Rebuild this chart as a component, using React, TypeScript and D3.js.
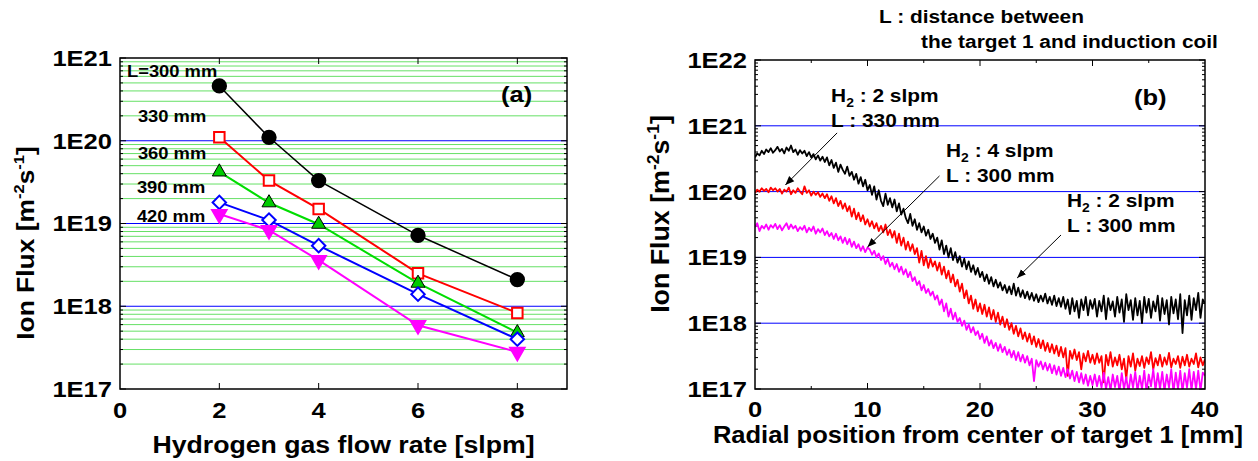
import React from 'react';
import * as d3 from 'd3';

// ---- panel (a): ion flux vs hydrogen flow rate ----
const flowRates = [2, 3, 4, 6, 8];
const fluxL300 = [4.6e20, 1.1e20, 3.3e19, 7.2e18, 2.1e18];
const fluxL330 = [1.1e20, 3.3e19, 1.5e19, 2.5e18, 8.3e17];
const fluxL360 = [4.2e19, 1.78e19, 9.8e18, 1.9e18, 4.8e17];
const fluxL390 = [1.8e19, 1.1e19, 5.4e18, 1.4e18, 4.0e17];
const fluxL420 = [1.3e19, 8.3e18, 3.6e18, 5.9e17, 2.8e17];
const distanceLabels = ['L=300 mm', '330 mm', '360 mm', '390 mm', '420 mm'];
const distanceLabelPos = [[0.14, 5.9e20], [0.36, 1.69e20], [0.36, 6.0e19], [0.34, 2.34e19], [0.34, 1.05e19]];
const xTicksA = [0, 2, 4, 6, 8];
const yTicksA = [1e17, 1e18, 1e19, 1e20, 1e21];

// ---- panel (b): radial profiles, log10 of flux every 0.2 mm from 0 to 40 mm ----
const radialStep = 0.2;
const logH2_2_L300 = [
  20.52, 20.58, 20.55, 20.62, 20.57, 20.64, 20.60, 20.66, 20.59, 20.63, 20.68,
  20.61, 20.65, 20.58, 20.67, 20.62, 20.70, 20.60, 20.64, 20.56, 20.63,
  20.58, 20.62, 20.54, 20.60, 20.52, 20.57, 20.49, 20.55, 20.47, 20.53,
  20.45, 20.52, 20.40, 20.48, 20.36, 20.44, 20.30, 20.41, 20.33, 20.27,
  20.38, 20.24, 20.30, 20.18, 20.27, 20.12, 20.22, 20.08, 20.18, 20.02,
  20.10, 19.95, 20.08, 19.88, 20.02, 19.86, 19.78, 19.97, 19.80, 19.90,
  19.76, 19.88, 19.70, 19.82, 19.65, 19.74, 19.60, 19.52, 19.66, 19.48,
  19.58, 19.42, 19.52, 19.38, 19.47, 19.33, 19.42, 19.28, 19.36, 19.22,
  19.30, 19.12, 19.26, 19.05, 19.18, 19.00, 19.14, 18.96, 19.08, 18.92,
  19.02, 18.86, 18.98, 18.82, 18.94, 18.78, 18.88, 18.74, 18.84, 18.70,
  18.78, 18.64, 18.74, 18.60, 18.70, 18.56, 18.66, 18.54, 18.62, 18.50,
  18.58, 18.46, 18.56, 18.44, 18.60, 18.42, 18.54, 18.40, 18.50, 18.38,
  18.48, 18.36, 18.46, 18.34, 18.44, 18.32, 18.42, 18.33, 18.45, 18.30,
  18.40, 18.28, 18.42, 18.26, 18.38, 18.25, 18.40, 18.22, 18.36, 18.14,
  18.38, 18.18, 18.34, 18.08, 18.36, 18.20, 18.40, 18.12, 18.35, 18.22,
  18.37, 18.10, 18.34, 18.18, 18.42, 18.06, 18.38, 18.20, 18.33, 18.10,
  18.40, 18.16, 18.36, 18.02, 18.44, 18.20, 18.35, 18.05, 18.38, 18.12,
  18.34, 18.00, 18.40, 18.16, 18.37, 18.08, 18.33, 18.18, 18.42, 18.04,
  18.38, 18.14, 18.35, 17.98, 18.40, 18.15, 18.36, 18.06, 18.44, 17.85,
  18.35, 18.12, 18.42, 18.05, 18.38, 18.20, 18.46, 18.08, 18.36, 18.30,
];
const logH2_2_L330 = [
  19.98, 20.03, 20.00, 20.05, 20.01, 20.04, 19.99, 20.06, 20.02, 20.05, 20.00,
  20.04, 19.97, 20.03, 20.00, 20.06, 19.96, 20.02, 19.98, 20.05, 20.00,
  19.96, 20.08, 19.98, 20.02, 19.94, 20.00, 19.95, 19.99, 19.92, 19.97,
  19.90, 19.96, 19.86, 19.93, 19.82, 19.90, 19.78, 19.86, 19.74, 19.82,
  19.70, 19.78, 19.62, 19.74, 19.58, 19.68, 19.55, 19.64, 19.50, 19.58,
  19.47, 19.55, 19.44, 19.52, 19.40, 19.48, 19.38, 19.50, 19.34, 19.42,
  19.30, 19.40, 19.22, 19.36, 19.18, 19.30, 19.12, 19.24, 19.10, 19.20,
  19.05, 19.14, 18.92, 19.10, 18.88, 19.02, 18.84, 18.98, 18.86, 18.94,
  18.80, 18.92, 18.74, 18.86, 18.68, 18.80, 18.62, 18.74, 18.56, 18.66,
  18.48, 18.60, 18.38, 18.50, 18.30, 18.42, 18.22, 18.36, 18.18, 18.30,
  18.14, 18.28, 18.10, 18.24, 18.06, 18.20, 18.02, 18.16, 17.98, 18.10,
  17.94, 18.06, 17.90, 18.00, 17.84, 17.96, 17.80, 17.92, 17.76, 17.86,
  17.72, 17.84, 17.68, 17.80, 17.64, 17.76, 17.62, 17.74, 17.58, 17.70,
  17.56, 17.68, 17.54, 17.66, 17.50, 17.64, 17.48, 17.62, 17.20, 17.58,
  17.46, 17.60, 17.44, 17.56, 17.30, 17.54, 17.42, 17.58, 17.40, 17.52,
  17.38, 17.54, 17.40, 17.50, 17.10, 17.52, 17.36, 17.56, 17.34, 17.48,
  17.36, 17.52, 17.30, 17.46, 17.15, 17.50, 17.34, 17.54, 17.28, 17.46,
  17.35, 17.50, 17.32, 17.48, 17.38, 17.56, 17.30, 17.47, 17.36, 17.52,
  17.34, 17.48, 17.37, 17.55, 17.33, 17.46, 17.38, 17.50, 17.32, 17.49,
  17.36, 17.52, 17.34, 17.46, 17.38, 17.54, 17.33, 17.48, 17.36, 17.45,
];
const logH2_4_L300 = [
  19.46, 19.52, 19.40, 19.48, 19.44, 19.50, 19.42, 19.49, 19.45, 19.51, 19.43,
  19.49, 19.41, 19.47, 19.52, 19.43, 19.50, 19.44, 19.48, 19.40, 19.46,
  19.42, 19.48, 19.38, 19.45, 19.40, 19.47, 19.36, 19.43, 19.38, 19.44,
  19.34, 19.40, 19.32, 19.37, 19.28, 19.36, 19.26, 19.32, 19.22, 19.30,
  19.20, 19.28, 19.16, 19.24, 19.14, 19.20, 19.10, 19.17, 19.08, 19.15,
  19.12, 19.04, 19.10, 19.00, 19.06, 18.96, 19.02, 18.90, 18.98, 18.86,
  18.92, 18.82, 18.90, 18.78, 18.86, 18.74, 18.82, 18.70, 18.78, 18.64,
  18.70, 18.58, 18.64, 18.50, 18.58, 18.46, 18.52, 18.42, 18.48, 18.36,
  18.42, 18.28, 18.36, 18.18, 18.30, 18.10, 18.22, 18.06, 18.16, 18.02,
  18.08, 17.96, 18.04, 17.90, 17.98, 17.86, 17.94, 17.82, 17.88, 17.76,
  17.84, 17.70, 17.80, 17.66, 17.74, 17.62, 17.70, 17.58, 17.68, 17.56,
  17.64, 17.52, 17.60, 17.48, 17.58, 17.44, 17.56, 17.42, 17.52, 17.40,
  17.50, 17.36, 17.46, 17.12, 17.44, 17.34, 17.42, 17.30, 17.40, 17.28,
  17.38, 17.24, 17.36, 17.22, 17.34, 17.20, 17.32, 17.18, 17.30, 17.16,
  17.28, 17.12, 17.26, 17.10, 17.24, 17.08, 17.22, 17.05, 17.20, 17.06,
  17.22, 17.04, 17.20, 17.02, 17.25, 17.00, 17.18, 16.98, 17.22, 17.03,
  17.20, 16.96, 17.24, 17.00, 17.18, 16.95, 17.22, 17.02, 17.26, 16.97,
  17.20, 17.00, 17.28, 16.96, 17.22, 17.04, 17.30, 16.98, 17.24, 17.00,
  17.26, 16.97, 17.22, 17.02, 17.30, 16.95, 17.25, 17.00, 17.28, 16.96,
  17.24, 17.02, 17.30, 16.98, 17.26, 17.00, 17.28, 16.97, 17.25, 17.20,
];
const xTicksB = [0, 10, 20, 30, 40];
const xMinorB = [5, 15, 25, 35];
const yTicksB = [1e17, 1e18, 1e19, 1e20, 1e21, 1e22];
// annotation texts and arrows (data coordinates: mm, flux)
const noteText = [
  { x: 6.76, y: 2.3e21, h2: '2 slpm', l: '330 mm' },
  { x: 16.98, y: 3.36e20, h2: '4 slpm', l: '300 mm' },
  { x: 27.73, y: 5.83e19, h2: '2 slpm', l: '300 mm' },
];
const noteArrows = [
  [[7.3, 7.8e20], [2.7, 1.26e20]],
  [[16.4, 1.73e20], [10.0, 1.44e19]],
  [[27.2, 2.19e19], [23.3, 4.86e18]],
];

const FONT = 'Arial, "Liberation Sans", Helvetica, sans-serif';
// the original lettering is a little wider than Arial
const WIDE = 1.16;

const xA = d3.scaleLinear().domain([0, 9]).range([120, 567]);
const yA = d3.scaleLog().domain([1e17, 1e21]).range([389, 58]);
const xB = d3.scaleLinear().domain([0, 40]).range([755, 1205]);
const yB = d3.scaleLog().domain([1e17, 1e22]).range([389, 60]);

function minorLogs(lo: number, hi: number) {
  const out: number[] = [];
  for (let e = lo; e < hi; e++) for (let k = 2; k <= 9; k++) out.push(k * Math.pow(10, e));
  return out;
}

function T({ x, y, sx = WIDE, children, ...rest }: any) {
  return (
    <text transform={`translate(${x},${y}) scale(${sx},1)`} fontWeight="bold" {...rest}>
      {children}
    </text>
  );
}

function YLabel({ x, y, size, sx }: { x: number; y: number; size: number; sx: number }) {
  const sup = Math.round(size * 0.64);
  const up = Math.round(size * 0.4);
  return (
    <text transform={`translate(${x},${y}) rotate(-90) scale(${sx},1)`} textAnchor="middle" fontSize={size} fontWeight="bold" fontFamily={FONT}>
      Ion Flux [m<tspan fontSize={sup} dy={-up}>-2</tspan><tspan dy={up}>s</tspan><tspan fontSize={sup} dy={-up}>-1</tspan><tspan dy={up}>]</tspan>
    </text>
  );
}

function LogYAxis({ y, x0, x1, lo, hi }: any) {
  const minors = minorLogs(lo, hi);
  const majors = d3.range(lo, hi + 1).map((e) => Math.pow(10, e));
  return (
    <g stroke="#000" strokeWidth={1}>
      {minors.map((v, i) => (
        <g key={'m' + i}>
          <line x1={x0} x2={x0 + 3} y1={y(v)} y2={y(v)} />
          <line x1={x1} x2={x1 - 3} y1={y(v)} y2={y(v)} />
        </g>
      ))}
      {majors.map((v, i) => (
        <g key={'M' + i}>
          <line x1={x0} x2={x0 + 6} y1={y(v)} y2={y(v)} />
          <line x1={x1} x2={x1 - 6} y1={y(v)} y2={y(v)} />
        </g>
      ))}
    </g>
  );
}

function PanelA() {
  const [x0, x1] = xA.range();
  const [yb, yt] = yA.range();
  const series = [
    { vals: fluxL300, color: '#000', sym: d3.symbolCircle, size: 140, fill: '#000', stroke: '#000', rot: 0, sw: 1.5 },
    { vals: fluxL330, color: '#ff0000', sym: d3.symbolSquare, size: 110, fill: '#fff', stroke: '#ff0000', rot: 0, sw: 2 },
    { vals: fluxL360, color: '#00dd00', sym: d3.symbolTriangle, size: 85, fill: '#00cc00', stroke: '#000', rot: 0, sw: 2 },
    { vals: fluxL390, color: '#0000ff', sym: d3.symbolSquare, size: 90, fill: '#fff', stroke: '#0000ff', rot: 45, sw: 2 },
    { vals: fluxL420, color: '#ff00ff', sym: d3.symbolTriangle, size: 90, fill: '#ff00ff', stroke: '#ff00ff', rot: 180, sw: 2 },
  ];
  const line = d3.line<number>().x((_, i) => xA(flowRates[i])).y((d) => yA(d));
  const minors = minorLogs(17, 21);
  const decades = [1e18, 1e19, 1e20];
  return (
    <g fontFamily={FONT}>
      {minors.map((v, i) => (
        <line key={i} x1={x0} x2={x1} y1={yA(v)} y2={yA(v)} stroke="#66e066" strokeWidth={1} />
      ))}
      {decades.map((v, i) => (
        <line key={i} x1={x0} x2={x1} y1={yA(v)} y2={yA(v)} stroke="#0000ff" strokeWidth={1} />
      ))}
      <LogYAxis y={yA} x0={x0} x1={x1} lo={17} hi={21} />
      {xTicksA.slice(1).map((t) => (
        <g key={t} stroke="#000">
          <line x1={xA(t)} x2={xA(t)} y1={yb} y2={yb - 6} />
          <line x1={xA(t)} x2={xA(t)} y1={yt} y2={yt + 6} />
        </g>
      ))}
      {series.map((s, si) => (
        <g key={si}>
          <path d={line(s.vals) || ''} fill="none" stroke={s.color} strokeWidth={s.sw} />
          {s.vals.map((v, i) => (
            <path
              key={i}
              d={d3.symbol().type(s.sym).size(s.size)() || ''}
              transform={`translate(${xA(flowRates[i])},${yA(v)}) rotate(${s.rot})`}
              fill={s.fill}
              stroke={s.stroke}
              strokeWidth={s.sym === d3.symbolTriangle && s.rot === 0 ? 1 : 2}
            />
          ))}
        </g>
      ))}
      <rect x={x0} y={yt} width={x1 - x0} height={yb - yt} fill="none" stroke="#000" strokeWidth={1.5} />
      {yTicksA.map((v) => (
        <T key={v} x={x0 - 8} y={yA(v)} dy="0.36em" textAnchor="end" fontSize={22}>
          {'1E' + Math.round(Math.log10(v))}
        </T>
      ))}
      {xTicksA.map((t) => (
        <T key={t} x={xA(t)} y={418} textAnchor="middle" fontSize={22}>{t}</T>
      ))}
      {distanceLabels.map((l, i) => (
        <T key={l} sx={1.08} x={xA(distanceLabelPos[i][0])} y={yA(distanceLabelPos[i][1])} fontSize={17}>{l}</T>
      ))}
      <T x={501} y={102} fontSize={22}>(a)</T>
      <T x={(x0 + x1) / 2} y={453} textAnchor="middle" fontSize={23}>Hydrogen gas flow rate [slpm]</T>
      <YLabel x={34} y={243} size={24} sx={1.1} />
    </g>
  );
}

function PanelB() {
  const [x0, x1] = xB.range();
  const [yb, yt] = yB.range();
  const traces = [
    { logs: logH2_2_L300, color: '#000000' },
    { logs: logH2_2_L330, color: '#ff0000' },
    { logs: logH2_4_L300, color: '#ff00ff' },
  ];
  const line = d3.line<number>().x((_, i) => xB(i * radialStep)).y((d) => yB(Math.pow(10, d)));
  const decades = [1e18, 1e19, 1e20, 1e21];
  return (
    <g fontFamily={FONT}>
      <defs>
        <clipPath id="clipB">
          <rect x={x0} y={yt} width={x1 - x0} height={yb - yt} />
        </clipPath>
        <marker id="arrowHead" viewBox="0 0 10 10" refX={10} refY={5} markerWidth={9} markerHeight={9} markerUnits="userSpaceOnUse" orient="auto">
          <path d="M0,1 L10,5 L0,9 z" fill="#000" />
        </marker>
      </defs>
      {decades.map((v, i) => (
        <line key={i} x1={x0} x2={x1} y1={yB(v)} y2={yB(v)} stroke="#0000ff" strokeWidth={1} />
      ))}
      <LogYAxis y={yB} x0={x0} x1={x1} lo={17} hi={22} />
      {xTicksB.slice(1, -1).map((t) => (
        <g key={t} stroke="#000">
          <line x1={xB(t)} x2={xB(t)} y1={yb} y2={yb - 6} />
          <line x1={xB(t)} x2={xB(t)} y1={yt} y2={yt + 6} />
        </g>
      ))}
      {xMinorB.map((t) => (
        <g key={t} stroke="#000">
          <line x1={xB(t)} x2={xB(t)} y1={yb} y2={yb - 3} />
          <line x1={xB(t)} x2={xB(t)} y1={yt} y2={yt + 3} />
        </g>
      ))}
      <g clipPath="url(#clipB)">
        {traces.map((t, i) => (
          <path key={i} d={line(t.logs) || ''} fill="none" stroke={t.color} strokeWidth={1.8} strokeLinejoin="round" />
        ))}
      </g>
      <rect x={x0} y={yt} width={x1 - x0} height={yb - yt} fill="none" stroke="#000" strokeWidth={1.5} />
      {yTicksB.map((v) => (
        <T key={v} x={x0 - 8} y={yB(v)} dy="0.36em" textAnchor="end" fontSize={22}>
          {'1E' + Math.round(Math.log10(v))}
        </T>
      ))}
      {xTicksB.map((t) => (
        <T key={t} x={xB(t)} y={417} textAnchor="middle" fontSize={22}>{t}</T>
      ))}
      {noteText.map((n, i) => (
        <g key={i} fontSize={18}>
          <T x={xB(n.x)} y={yB(n.y)}>
            H<tspan fontSize={12} dy={5}>2</tspan><tspan dy={-5}>{' : ' + n.h2}</tspan>
          </T>
          <T x={xB(n.x)} y={yB(n.y) + 25}>{'L : ' + n.l}</T>
        </g>
      ))}
      {noteArrows.map((a, i) => (
        <line key={i} x1={xB(a[0][0])} y1={yB(a[0][1])} x2={xB(a[1][0])} y2={yB(a[1][1])} stroke="#000" strokeWidth={1} markerEnd="url(#arrowHead)" />
      ))}
      <T x={1134} y={105} fontSize={22}>(b)</T>
      <T x={879} y={23} fontSize={18}>L : distance between</T>
      <T x={921} y={48} fontSize={18}>the target 1 and induction coil</T>
      <T x={(x0 + x1) / 2 - 2} y={443} sx={1.11} textAnchor="middle" fontSize={23}>Radial position from center of target 1 [mm]</T>
      <YLabel x={669} y={214} size={26} sx={1.03} />
    </g>
  );
}

export default function App() {
  return (
    <svg width={1258} height={461} style={{ position: 'absolute', left: 0, top: 0, background: '#fff' }}>
      <rect width={1258} height={461} fill="#fff" />
      <PanelA />
      <PanelB />
    </svg>
  );
}
